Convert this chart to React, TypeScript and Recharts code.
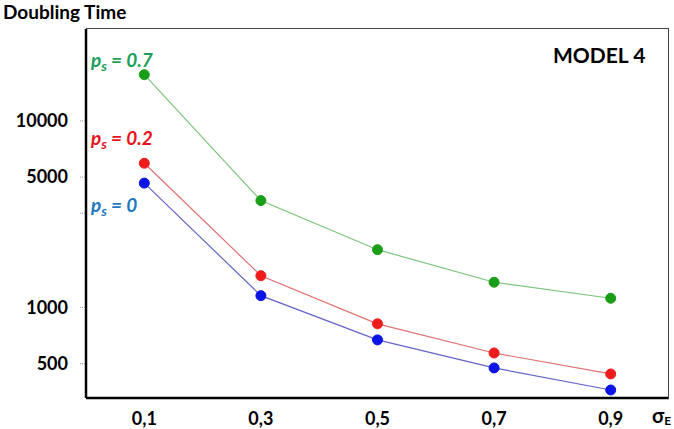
import React from "react";
import {
  LineChart,
  Line,
  XAxis,
  YAxis,
} from "recharts";

const sigmaE = [0.1, 0.3, 0.5, 0.7, 0.9];
const ps0 = [4640, 1157, 670, 474, 361];
const ps02 = [5930, 1480, 817, 570, 440];
const ps07 = [17700, 3740, 2040, 1365, 1120];

const yTicks = [500, 1000, 3200, 5000, 10000];
const yLabels = ["500", "1000", "", "5000", "10000"];
const xTicks = [0.1, 0.3, 0.5, 0.7, 0.9];

const data = sigmaE.map((s, i) => ({
  s,
  ps0: ps0[i],
  ps02: ps02[i],
  ps07: ps07[i],
}));

const font = "Lato, 'Open Sans', sans-serif";

function Ps({ value, color, left, top }: { value: string; color: string; left: number; top: number }) {
  return (
    <div
      style={{
        position: "absolute",
        left,
        top,
        color,
        fontFamily: font,
        fontWeight: 700,
        fontStyle: "italic",
        fontSize: 19,
        whiteSpace: "nowrap",
        lineHeight: "20px",
      }}
    >
      p<sub style={{ fontSize: 14, verticalAlign: "-4px" }}>s</sub> = {value}
    </div>
  );
}

export default function App() {
  return (
    <div style={{ position: "absolute", left: 0, top: 0, width: 674, height: 429, background: "#fff" }}>
      <LineChart
        width={674}
        height={429}
        data={data}
        margin={{ top: 29, right: 5, bottom: 0, left: 0 }}
      >
        <XAxis
          dataKey="s"
          type="number"
          domain={[0, 1]}
          ticks={xTicks}
          height={31}
          axisLine={{ stroke: "#000", strokeWidth: 2.5 }}
          tickLine={false}
          tickMargin={8}
          tick={{ fill: "#000", fontFamily: font, fontWeight: 700, fontSize: 18 }}
          tickFormatter={(v: number) => v.toFixed(1).replace(".", ",")}
        />
        <YAxis
          scale="log"
          domain={[327, 31100]}
          allowDataOverflow
          ticks={yTicks}
          width={86}
          axisLine={{ stroke: "#000", strokeWidth: 2.5 }}
          tickLine={{ stroke: "#999", strokeDasharray: "1 1" }}
          tickSize={6}
          tickMargin={12}
          tick={{ fill: "#000", fontFamily: font, fontWeight: 700, fontSize: 18 }}
          tickFormatter={(v: number) => yLabels[yTicks.indexOf(v)] ?? ""}
        />
        <Line
          dataKey="ps07"
          stroke="#7cc47c"
          strokeWidth={1.2}
          dot={{ r: 5, fill: "#1a9e1a", stroke: "#1a9e1a", strokeWidth: 1 }}
          activeDot={false}
          isAnimationActive={false}
        />
        <Line
          dataKey="ps02"
          stroke="#e07070"
          strokeWidth={1.2}
          dot={{ r: 5, fill: "#ee1c1c", stroke: "#ee1c1c", strokeWidth: 1 }}
          activeDot={false}
          isAnimationActive={false}
        />
        <Line
          dataKey="ps0"
          stroke="#6464c8"
          strokeWidth={1.2}
          dot={{ r: 5, fill: "#0a14e6", stroke: "#0a14e6", strokeWidth: 1 }}
          activeDot={false}
          isAnimationActive={false}
        />
      </LineChart>

      {/* thin top/right frame of the plot box */}
      <div
        style={{
          position: "absolute",
          left: 86,
          top: 28,
          width: 582,
          height: 370,
          borderTop: "1.5px solid #444",
          borderRight: "1.5px solid #444",
          pointerEvents: "none",
        }}
      />

      <div
        style={{
          position: "absolute",
          left: 3,
          top: 0,
          fontFamily: font,
          fontWeight: 700,
          fontSize: 19,
          color: "#000",
          whiteSpace: "nowrap",
        }}
      >
        Doubling Time
      </div>
      <div
        style={{
          position: "absolute",
          left: 553,
          top: 43,
          fontFamily: font,
          fontWeight: 700,
          fontSize: 21,
          color: "#000",
          whiteSpace: "nowrap",
          lineHeight: "24px",
        }}
      >
        MODEL 4
      </div>
      <Ps value="0.7" color="#1aa05a" left={91} top={50} />
      <Ps value="0.2" color="#e8141c" left={91} top={128} />
      <Ps value="0" color="#1f78c0" left={91} top={195} />
      <div
        style={{
          position: "absolute",
          left: 652,
          top: 405,
          fontFamily: font,
          fontWeight: 700,
          fontSize: 20,
          color: "#000",
          whiteSpace: "nowrap",
          lineHeight: "20px",
        }}
      >
        σ<sub style={{ fontSize: 12, verticalAlign: "-2px", lineHeight: "12px" }}>E</sub>
      </div>
    </div>
  );
}
